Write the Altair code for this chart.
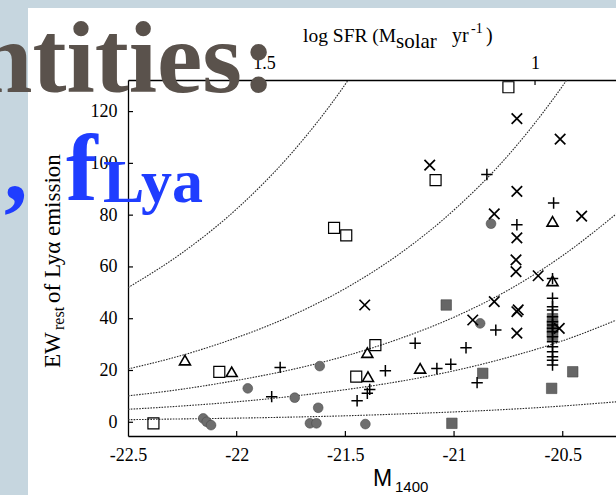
import altair as alt
import pandas as pd

# ---- Lyα equivalent width vs. UV absolute magnitude ----
# open squares
sq_m = [-22.383, -22.08, -21.552, -21.496, -21.362, -21.45, -21.085, -20.75]
sq_ew = [-0.4, 19.5, 75.1, 72.2, 29.8, 17.6, 93.5, 129.4]

# open triangles
tri_m = [-22.238, -22.023, -21.399, -21.396, -21.156, -20.547, -20.547]
tri_ew = [24.0, 19.5, 26.9, 17.6, 20.8, 77.6, 54.6]

# plus signs
plus_m = [-21.80, -21.839, -21.179, -21.316, -21.079, -21.015, -21.388, -21.399,
          -21.446, -20.849, -20.542, -20.711, -20.808, -20.945, -20.894, -20.547,
          -20.547, -20.547, -20.547, -20.547, -20.547, -20.547, -20.547, -20.547,
          -20.547, -20.547, -20.547, -20.547, -20.547, -20.547, -20.547]
plus_ew = [21.2, 9.9, 30.5, 19.9, 20.8, 22.4, 12.7, 11.2,
           8.3, 95.7, 84.7, 76.3, 35.6, 28.8, 15.3, 55.5,
           47.9, 44.6, 43.4, 40.8, 38.8, 37.6, 36.3, 35.0,
           33.0, 31.1, 29.2, 27.2, 25.3, 24.0, 22.1]

# crosses
x_m = [-21.411, -21.112, -20.711, -20.512, -20.711, -20.413, -20.815, -20.711,
       -20.715, -20.715, -20.613, -20.815, -20.711, -20.705, -20.914, -20.711, -20.516]
x_ew = [45.3, 99.3, 117.3, 109.4, 89.2, 79.6, 80.5, 71.2,
        62.7, 58.2, 56.6, 46.6, 42.7, 43.4, 39.5, 34.4, 36.3]

# filled circles
circ_m = [-22.154, -22.138, -22.118, -21.949, -21.733, -21.618, -21.625, -21.663,
          -21.633, -21.408, -20.88, -20.83]
circ_ew = [1.5, 0.2, -1.1, 13.1, 9.5, 21.7, 5.6, -0.4, -0.4, -0.7, 38.2, 76.7]

# filled squares
fsq_m = [-21.036, -21.01, -20.868, -20.454, -20.551, -20.547, -20.547, -20.547, -20.547]
fsq_ew = [45.3, -0.4, 18.9, 19.5, 13.1, 40.0, 37.5, 35.0, 33.5]

# dotted guide curves (constant Lyα flux)
curve_m = [-22.5, -22.25, -22.0, -21.75, -21.5, -21.25, -21.0, -20.75, -20.5, -20.255]
curve_a = [1.0, 1.3, 1.6, 2.0, 2.5, 3.2, 4.0, 5.0, 6.3, 7.9]
curve_b = [5.0, 6.3, 7.9, 10.0, 12.6, 15.8, 19.9, 25.1, 31.5, 39.4]
curve_c = [10.2, 12.8, 16.2, 20.3, 25.6, 32.3, 40.6, 51.1, 64.4, 80.4]
curve_d = [20.6, 25.9, 32.7, 41.1, 51.7, 65.1, 82.0, 103.2, 130.0, 162.0]
curve_e = [52.0, 65.5, 82.4, 103.7, 130.6, 164.4, 207.0, 260.0, 328.0, 410.0]

# axis ticks
m_ticks = [-22.5, -22.0, -21.5, -21.0, -20.5]
ew_ticks = [0, 20, 40, 60, 80, 100, 120]
sfr_ticks = [1.5, 1.0]

W, H = 488, 356
OX, OY = 128, 80  # plot origin inside the page
SERIF = "Liberation Serif"
SANS = "Liberation Sans"
SLIDE_BLUE = "#c6d6df"

xscale = alt.Scale(domain=[-22.5, -20.255], nice=False, zero=False)
yscale = alt.Scale(domain=[-5.3, 132.2], nice=False, zero=False)
sfrscale = alt.Scale(domain=[0.8506, 1.751], reverse=True, nice=False, zero=False)

axis_style = dict(title=None, ticks=False, tickSize=0, grid=False, labelFont=SERIF,
                  labelFontSize=18, labelColor="black", domainColor="black",
                  domainWidth=1.3, labelFlush=False, labelOverlap=False)
x_axis = alt.Axis(values=m_ticks, labelExpr="'' + datum.value", labelPadding=10,
                  **axis_style)
y_axis = alt.Axis(values=ew_ticks, labelPadding=11, **axis_style)
top_axis = alt.Axis(orient="top", values=sfr_ticks, labelExpr="'' + datum.value",
                    labelPadding=8, **axis_style)

y_enc = alt.Y("EW:Q", scale=yscale, axis=y_axis)


def xenc(axis=None):
    return alt.X("M:Q", scale=xscale, axis=axis)


def one():
    return pd.DataFrame({"k": [0]})


# slide border strips around the white figure panel
strip_left = alt.Chart(one()).mark_rect(color=SLIDE_BLUE).encode(
    x=alt.value(-OX), x2=alt.value(28 - OX), y=alt.value(-OY), y2=alt.value(H + 80))
strip_top = alt.Chart(one()).mark_rect(color=SLIDE_BLUE).encode(
    x=alt.value(-OX), x2=alt.value(W + 10), y=alt.value(-OY), y2=alt.value(8 - OY))

# guide curves
curve_layers = []
for i, vals in enumerate([curve_a, curve_b, curve_c, curve_d, curve_e]):
    df = pd.DataFrame({"M": curve_m, "EW": vals})
    curve_layers.append(
        alt.Chart(df).mark_line(color="#2a2a2a", strokeWidth=1.1, strokeDash=[1.6, 1.2],
                                interpolate="monotone", clip=True)
        .encode(x=xenc(x_axis if i == 0 else None), y=y_enc))

PLUS = "M -1 0 L 1 0 M 0 -1 L 0 1"
CROSS = "M -1 -1 L 1 1 M -1 1 L 1 -1"


def pts(m, ew, shape, size, filled, color, sw):
    df = pd.DataFrame({"M": m, "EW": ew})
    if filled:
        mk = alt.Chart(df).mark_point(shape=shape, size=size, filled=True, fill=color,
                                      stroke="#4a4a4a", strokeWidth=0.6, opacity=1,
                                      clip=True)
    else:
        mk = alt.Chart(df).mark_point(shape=shape, size=size, filled=False, color=color,
                                      strokeWidth=sw, opacity=1, clip=True)
    return mk.encode(x=xenc(), y=y_enc)


marker_layers = [
    pts(circ_m, circ_ew, "circle", 95, True, "#6e6e6e", 0),
    pts(fsq_m, fsq_ew, "square", 110, True, "#666666", 0),
    pts(sq_m, sq_ew, "square", 121, False, "black", 1.2),
    pts(tri_m, tri_ew, "triangle-up", 120, False, "black", 1.6),
    pts(plus_m, plus_ew, PLUS, 130, False, "black", 1.5),
    pts(x_m, x_ew, CROSS, 110, False, "black", 1.7),
]

# inward tick marks
left_ticks = alt.Chart(pd.DataFrame({"EW": ew_ticks})).mark_rule(
    color="black", strokeWidth=1.2).encode(
    y=y_enc, x=alt.value(0), x2=alt.value(5))
bottom_ticks = alt.Chart(pd.DataFrame({"M": m_ticks[1:]})).mark_rule(
    color="black", strokeWidth=1.2).encode(
    x=xenc(), y=alt.value(H), y2=alt.value(H - 5))
top_ticks = alt.Chart(pd.DataFrame({"sfr": sfr_ticks})).mark_rule(
    color="black", strokeWidth=1.2).encode(
    x=alt.X("sfr:Q", scale=sfrscale, axis=top_axis), y=alt.value(0), y2=alt.value(5))


def text(s, x, y, size, font=SERIF, color="black", weight="normal", angle=0,
         align="left", baseline="alphabetic"):
    return alt.Chart(pd.DataFrame({"t": [s]})).mark_text(
        font=font, fontSize=size, color=color, fontWeight=weight, angle=angle,
        align=align, baseline=baseline).encode(
        text="t:N", x=alt.value(x - OX), y=alt.value(y - OY))


titles = [
    # top axis title: log SFR (M_solar yr^-1)
    text("log SFR (M", 303, 42, 19.5),
    text("solar", 396, 48, 21),
    text("yr", 452, 42, 20),
    text("-1", 471, 33, 14),
    text(")", 486, 42, 20),
    # bottom axis title: M_1400
    text("M", 373, 486, 23, font=SANS),
    text("1400", 395, 492, 15, font=SANS),
    # left axis title: EW_rest of Lyα emission
    text("EW", 60, 368, 23, angle=270),
    text("rest", 64, 330, 16, angle=270),
    text("of Lyα emission", 60, 303, 23, angle=270),
]

slide_text = [
    text("Quantities:", 276, 92, 102, color="#5a524c", weight="bold", align="right"),
    text(",", 4, 200, 95, color="#1f3dff", weight="bold"),
    text("f", 66, 200, 95, color="#1f3dff", weight="bold"),
    text("Lya", 103, 202, 62, color="#1f3dff", weight="bold"),
]

chart = alt.layer(
    strip_left, strip_top, *curve_layers, *marker_layers, left_ticks, bottom_ticks,
    top_ticks, *titles, *slide_text
).resolve_scale(x="independent").properties(
    width=W, height=H,
    autosize=alt.AutoSizeParams(type="none"),
    padding={"left": OX, "top": OY, "right": 0, "bottom": 495 - OY - H},
    background="white",
).configure_view(stroke=None)

chart.save("out.html", embed_options={"renderer": "svg", "actions": False})
